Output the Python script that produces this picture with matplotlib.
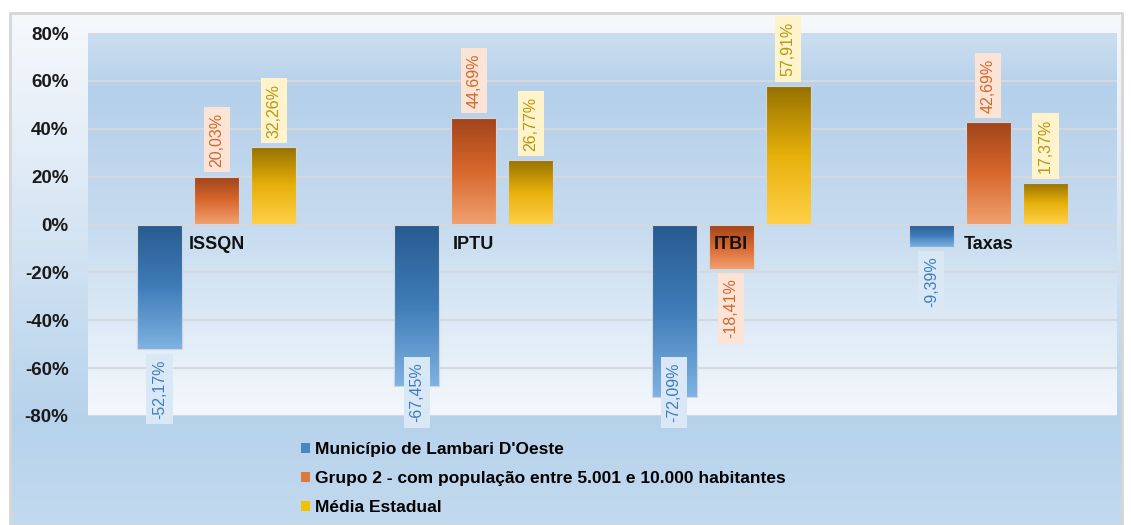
import numpy as np
import matplotlib
matplotlib.use('Agg')
import matplotlib.pyplot as plt
from matplotlib.colors import LinearSegmentedColormap
from matplotlib.patches import Patch, Rectangle

plt.rcParams['font.family'] = ['Liberation Sans', 'DejaVu Sans']

# data
categories = ['ISSQN', 'IPTU', 'ITBI', 'Taxas']
series_names = ["Município de Lambari D'Oeste",
                'Grupo 2 - com população entre 5.001 e 10.000 habitantes',
                'Média Estadual']
municipio = [-52.17, -67.45, -72.09, -9.39]
grupo2 = [20.03, 44.69, -18.41, 42.69]
media = [32.26, 26.77, 57.91, 17.37]
yticks = [-80, -60, -40, -20, 0, 20, 40, 60, 80]

# styles per series: gradient (top -> bottom), label text colour, label box colour, legend colour
grad = [['#275b8f', '#3f7cb8', '#7eb3e2'],
        ['#a0441a', '#d8672c', '#f0a070'],
        ['#957000', '#e6b00a', '#ffd048']]
txt_col = ['#3b7cc0', '#d0682a', '#b8960c']
box_col = ['#dae8f5', '#fbe3d6', '#fff3cc']
leg_col = ['#4a86c5', '#e0783a', '#f2c200']

# labels of bars going below this value are pushed up to stay above the legend (like Excel)
label_floor = -53

fig = plt.figure(figsize=(11.31, 5.25), dpi=100)

# outer chart background gradient
bg = fig.add_axes([10 / 1131, 0, 1112 / 1131, 512 / 525])
bg_cmap = LinearSegmentedColormap.from_list('bg', [(0, '#f6f9fc'), (0.3, '#e0ebf6'),
                                                    (0.8, '#b6d2eb'), (1, '#c2daef')])
bg.imshow(np.linspace(0, 1, 256)[:, None], cmap=bg_cmap, aspect='auto', extent=[0, 1, 0, 1])
bg.set_xlim(0, 1)
bg.set_ylim(0, 1)
bg.axis('off')
bg.add_patch(Rectangle((0, 0), 1, 1, transform=bg.transAxes, fill=False,
                       ec='#d6d6d6', lw=2, clip_on=False))

ax = fig.add_axes([88 / 1131, 1 - 416 / 525, 1029 / 1131, 383 / 525])
pa_cmap = LinearSegmentedColormap.from_list('pa', [(0, '#cbdef0'), (0.15, '#b5d0ea'),
                                                    (0.5, '#c6dbef'), (1, '#f4f8fc')])
ax.imshow(np.linspace(0, 1, 256)[:, None], cmap=pa_cmap, aspect='auto',
          extent=[-0.5, 3.5, -80, 80], zorder=0)

x = np.arange(len(categories))
width = 0.175
step = 0.222
all_series = [municipio, grupo2, media]

for s, vals in enumerate(all_series):
    pos = x + (s - 1) * step
    bars = ax.bar(pos, vals, width, color='none', edgecolor='#cfd6de', lw=0.8, zorder=3)
    cmap = LinearSegmentedColormap.from_list('g%d' % s, grad[s])
    for b, v in zip(bars, vals):
        x0 = b.get_x()
        y0, y1 = min(0, v), max(0, v)
        im = ax.imshow(np.linspace(0, 1, 128)[:, None], cmap=cmap, aspect='auto',
                       extent=[x0, x0 + width, y0, y1], zorder=2)
        im.set_clip_path(b)
        lbl = ('%.2f%%' % v).replace('.', ',')
        xc = b.get_x() + width / 2
        if v >= 0:
            xy, off, va = (xc, v), 7, 'bottom'
        elif v >= label_floor:
            xy, off, va = (xc, v), -7, 'top'
        else:
            xy, off, va = (xc, -80), -4.5, 'bottom'
        ax.annotate(lbl, xy=xy, xytext=(0, off),
                    textcoords='offset points', rotation=90, ha='center',
                    va=va, fontsize=11.5, color=txt_col[s],
                    bbox=dict(boxstyle='square,pad=0.35', fc=box_col[s], ec='none'),
                    annotation_clip=False, zorder=5)

for i, name in enumerate(categories):
    ax.annotate(name, xy=(i, 0), xytext=(0, -8), textcoords='offset points',
                ha='center', va='top', fontsize=13, fontweight='bold',
                color='#111111', zorder=6)

ax.set_xlim(-0.5, 3.5)
ax.set_ylim(-80, 80)
ax.set_yticks(yticks)
ax.set_yticklabels(['%d%%' % t for t in yticks], fontsize=13.5, fontweight='bold', color='#1a1a1a')
ax.tick_params(axis='y', length=0, pad=14)
ax.set_xticks([])
for t in yticks:
    ax.axhline(t, color='#d5d8dc', lw=1.5, zorder=1)
for sp in ax.spines.values():
    sp.set_visible(False)

handles = [Patch(facecolor=c, edgecolor='none') for c in leg_col]
fig.legend(handles, series_names, loc='upper left', bbox_to_anchor=(301 / 1131, 1 - 442 / 525),
           frameon=False, borderpad=0, borderaxespad=0, handlelength=0.5, handleheight=0.5,
           handletextpad=0.3, labelspacing=0.8,
           prop=dict(weight='bold', size=12.5))

fig.savefig('out.png', dpi=100, facecolor='white')
